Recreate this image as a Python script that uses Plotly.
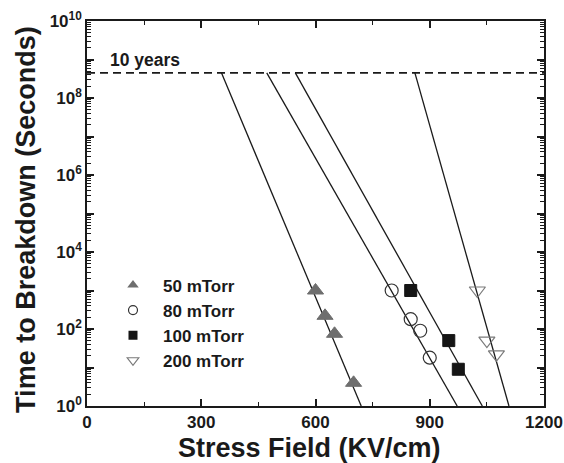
import plotly.graph_objects as go

# ---- data ----
field_50 = [600, 625, 650, 700]
tbd_50 = [1000, 220, 75, 4]
field_80 = [800, 850, 875, 900]
tbd_80 = [1000, 180, 90, 18]
field_100 = [850, 950, 975]
tbd_100 = [1000, 50, 9]
field_200 = [1025, 1050, 1075]
tbd_200 = [1000, 50, 22]

series_names = ["50 mTorr", "80 mTorr", "100 mTorr", "200 mTorr"]
# fitted lines: field where fit reaches the 10-year line, and where it reaches 1 s
fit_field_at_10yr = [353, 472, 547, 861]
fit_field_at_1s = [720, 972, 1038, 1108]
ten_year_time = 4.5e8
one_second = 1

x_ticks = [0, 300, 600, 900, 1200]
y_decades = list(range(0, 11))

fig = go.Figure()

# fit lines
for xa, xb in zip(fit_field_at_10yr, fit_field_at_1s):
    fig.add_trace(go.Scatter(x=[xa, xb], y=[ten_year_time, one_second], mode="lines",
                             line=dict(color="#1a1a1a", width=1.3), showlegend=False,
                             hoverinfo="skip"))

# 10-year dashed line
fig.add_trace(go.Scatter(x=[x_ticks[0], x_ticks[-1]], y=[ten_year_time, ten_year_time],
                         mode="lines", line=dict(color="#1a1a1a", width=1.6, dash="8px,5px"),
                         showlegend=False, hoverinfo="skip"))

styles = [
    dict(symbol="triangle-up", size=14, color="#6e6e6e", line=dict(color="#6e6e6e", width=1)),
    dict(symbol="circle-open", size=13, color="#333333", line=dict(width=1.2)),
    dict(symbol="square", size=12, color="#151515", line=dict(color="#151515", width=1)),
    dict(symbol="triangle-down-open", size=14, color="#7a7a7a", line=dict(width=1.2)),
]
legend_styles = [
    dict(symbol="triangle-up", size=10, color="#6e6e6e"),
    dict(symbol="circle-open", size=9, color="#333333", line=dict(width=1.2)),
    dict(symbol="square", size=9, color="#151515"),
    dict(symbol="triangle-down-open", size=10, color="#7a7a7a", line=dict(width=1.2)),
]
xs = [field_50, field_80, field_100, field_200]
ys = [tbd_50, tbd_80, tbd_100, tbd_200]
for name, x, y, st in zip(series_names, xs, ys, styles):
    fig.add_trace(go.Scatter(x=x, y=y, mode="markers", marker=st, name=name, showlegend=False))
for name, st in zip(series_names, legend_styles):
    fig.add_trace(go.Scatter(x=[None], y=[None], mode="markers", marker=st, name=name,
                             showlegend=True))

fig.add_annotation(x=0.046, xref="paper", y=9.0, yref="y", text="<b>10 years</b>",
                   showarrow=False, xanchor="left", yanchor="middle",
                   font=dict(size=17.5, color="#1a1a1a"))

# axis titles
fig.add_annotation(x=0.486, xref="paper", y=-0.109, yref="paper",
                   text="<b>Stress Field (KV/cm)</b>", showarrow=False,
                   xanchor="center", yanchor="middle", font=dict(size=27, color="#1a1a1a"))
fig.add_annotation(x=-0.1335, xref="paper", y=0.486, yref="paper",
                   text="<b>Time to Breakdown (Seconds)</b>", showarrow=False, textangle=-90,
                   xanchor="center", yanchor="middle", font=dict(size=27, color="#1a1a1a"))

y_tickvals = [10 ** d for d in y_decades]
y_ticktext = [f"<b>10<sup>{d}</sup></b>" if d % 2 == 0 else "" for d in y_decades]
y_minor = [k * 10 ** d for d in y_decades[:-1] for k in range(2, 10)]
x_ticktext = [f"<b>{v}</b>" for v in x_ticks]

font_family = "Liberation Sans, Arial, sans-serif"
fig.update_layout(
    width=564, height=463,
    margin=dict(l=87, r=20, t=21, b=57),
    paper_bgcolor="white", plot_bgcolor="white",
    font=dict(family=font_family, color="#1a1a1a"),
    xaxis=dict(range=[0, 1200], tickvals=x_ticks, ticktext=x_ticktext, ticks="inside",
               ticklen=7, tickwidth=1.5,
               tickcolor="#1a1a1a", showline=True, linewidth=1.6, linecolor="#1a1a1a",
               mirror="allticks", showgrid=False, zeroline=False, automargin=False,
               minor=dict(dtick=150, tick0=0, ticks="inside", ticklen=4, tickwidth=1.2,
                          tickcolor="#1a1a1a", showgrid=False),
               tickfont=dict(size=17)),
    yaxis=dict(type="log", range=[0, 10], tickvals=y_tickvals, ticktext=y_ticktext,
               ticks="inside", ticklen=7, tickwidth=1.5, tickcolor="#1a1a1a",
               showline=True, linewidth=1.6, linecolor="#1a1a1a", mirror="allticks",
               showgrid=False, zeroline=False, automargin=False,
               minor=dict(tickvals=y_minor, ticks="inside", ticklen=4, tickwidth=1,
                          tickcolor="#1a1a1a", showgrid=False),
               tickfont=dict(size=17)),
    legend=dict(x=0.035, y=0.36, xanchor="left", yanchor="top", bgcolor="rgba(0,0,0,0)",
                font=dict(size=17, weight="bold"), tracegroupgap=0, itemwidth=50),
)

fig.write_html("out.html", config={"displayModeBar": False},
               post_script="document.body.style.margin='0';document.body.style.overflow='hidden';")
